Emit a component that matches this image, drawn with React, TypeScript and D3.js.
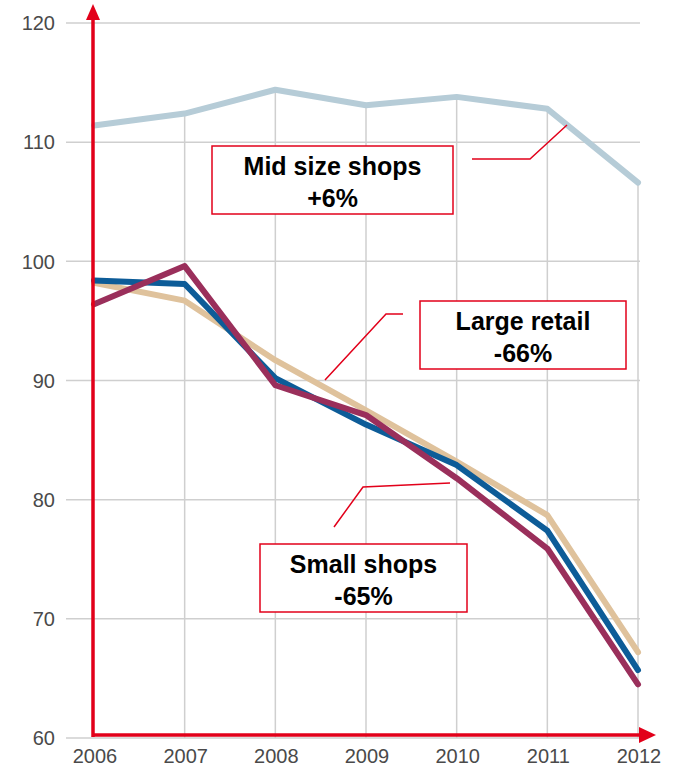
import React from "react";
import * as d3 from "d3";

const years = [2006, 2007, 2008, 2009, 2010, 2011, 2012];
const yTicks = [60, 70, 80, 90, 100, 110, 120];

const midSizeShops = [111.4, 112.4, 114.4, 113.1, 113.8, 112.8, 106.6];
const largeRetail = [98.2, 96.7, 91.7, 87.5, 83.2, 78.7, 67.2];
const allRetail = [98.4, 98.1, 90.2, 86.3, 82.9, 77.4, 65.7];
const smallShops = [96.4, 99.6, 89.6, 87.1, 81.8, 75.9, 64.5];

const callouts = [
  { title: "Mid size shops", change: "+6%" },
  { title: "Large retail", change: "-66%" },
  { title: "Small shops", change: "-65%" },
];

const RED = "#e2001a";
const FONT = "Liberation Sans, Arial, sans-serif";

export default function App() {
  const W = 680;
  const H = 768;
  const x = d3.scaleLinear().domain([2006, 2012]).range([94, 638]);
  const y = d3.scaleLinear().domain([60, 120]).range([738, 23]);

  const line = d3
    .line<number>()
    .x((_, i) => x(years[i]))
    .y((d) => y(d));

  const series = [
    { values: midSizeShops, color: "#b6ccd7" },
    { values: largeRetail, color: "#dfc29c" },
    { values: allRetail, color: "#0d5c98" },
    { values: smallShops, color: "#9a2f5b" },
  ];

  // callout boxes and their leader lines
  const boxes = [
    { x0: 212, y0: 146, x1: 453, y1: 214, leader: [[472, 159], [530, 159], [567, 125]] },
    { x0: 420, y0: 301, x1: 626, y1: 369, leader: [[403, 314], [386, 314], [325, 380]] },
    { x0: 260, y0: 544, x1: 467, y1: 612, leader: [[334, 527], [363, 487], [450, 483]] },
  ];

  return (
    <svg
      width={W}
      height={H}
      style={{ position: "absolute", left: 0, top: 0, background: "#fff" }}
      fontFamily={FONT}
    >
      {/* horizontal grid */}
      {yTicks.map((t) => (
        <g key={t}>
          <line x1={66} x2={640} y1={y(t)} y2={y(t)} stroke="#cfcfcf" strokeWidth={1.5} />
          <text
            x={55}
            y={y(t)}
            dy="0.36em"
            textAnchor="end"
            fontSize={20}
            fill="#4a4a4a"
          >
            {t}
          </text>
        </g>
      ))}
      {/* vertical drop lines from the top series */}
      {years.map((yr, i) => (
        <g key={yr}>
          {i > 0 && (
            <line
              x1={x(yr)}
              x2={x(yr)}
              y1={y(midSizeShops[i])}
              y2={y(60)}
              stroke="#cfcfcf"
              strokeWidth={1.5}
            />
          )}
          <text x={x(yr) + 1} y={763} textAnchor="middle" fontSize={20} fill="#4a4a4a">
            {yr}
          </text>
        </g>
      ))}

      {/* series */}
      {series.map((s, i) => (
        <path
          key={i}
          d={line(s.values) || ""}
          fill="none"
          stroke={s.color}
          strokeWidth={6}
          strokeLinejoin="round"
          strokeLinecap="round"
        />
      ))}

      {/* axes with arrows */}
      <line x1={93} x2={93} y1={737} y2={18} stroke={RED} strokeWidth={3.5} />
      <path d="M93,4 L86,20 L100,20 Z" fill={RED} />
      <line x1={92} x2={642} y1={735} y2={735} stroke={RED} strokeWidth={3.5} />
      <path d="M656,735 L639,727 L639,743 Z" fill={RED} />

      {/* callouts */}
      {boxes.map((b, i) => (
        <g key={i}>
          <polyline
            points={b.leader.map((p) => p.join(",")).join(" ")}
            fill="none"
            stroke={RED}
            strokeWidth={1.5}
          />
          <rect
            x={b.x0}
            y={b.y0}
            width={b.x1 - b.x0}
            height={b.y1 - b.y0}
            fill="#fff"
            stroke={RED}
            strokeWidth={1.5}
          />
          <text
            x={(b.x0 + b.x1) / 2}
            y={b.y0 + 29}
            textAnchor="middle"
            fontSize={25}
            fontWeight="bold"
            fill="#000"
          >
            {callouts[i].title}
          </text>
          <text
            x={(b.x0 + b.x1) / 2}
            y={b.y0 + 61}
            textAnchor="middle"
            fontSize={25}
            fontWeight="bold"
            fill="#000"
          >
            {callouts[i].change}
          </text>
        </g>
      ))}
    </svg>
  );
}
